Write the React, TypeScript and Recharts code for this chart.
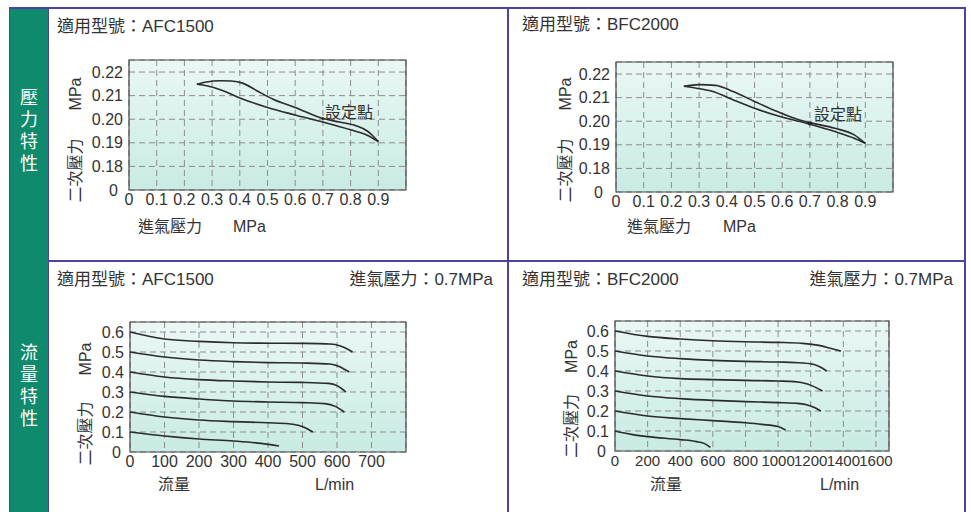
import React from 'react';
import { LineChart, Line, XAxis, YAxis, CartesianGrid, ReferenceArea, ReferenceDot } from 'recharts';

const FONT = '"Liberation Sans", "Noto Sans CJK TC", sans-serif';
const INK = '#333';
const RULE = '#4a44a0';

type Pt = [number, number];

// 壓力特性: x = 進氣壓力 (MPa), y = 二次壓力 (MPa); 0.17 stands for the broken-axis "0"
const inletTicks = [0, 0.1, 0.2, 0.3, 0.4, 0.5, 0.6, 0.7, 0.8, 0.9];
const outletTicks = [0.17, 0.18, 0.19, 0.2, 0.21, 0.22];

const afcUpper: Pt[] = [[0.245, 0.2148], [0.28, 0.2158], [0.33, 0.2163], [0.37, 0.2162], [0.41, 0.2153], [0.46, 0.2122], [0.52, 0.2085], [0.6, 0.205], [0.7, 0.2003], [0.76, 0.1988], [0.82, 0.1972], [0.86, 0.195], [0.88, 0.193], [0.9, 0.1905]];
const afcLower: Pt[] = [[0.245, 0.2148], [0.28, 0.2142], [0.33, 0.2125], [0.4, 0.209], [0.5, 0.205], [0.6, 0.2018], [0.7, 0.1988], [0.8, 0.1955], [0.86, 0.1932], [0.9, 0.1905]];

const bfcUpper: Pt[] = [[0.245, 0.2148], [0.3, 0.2155], [0.36, 0.2152], [0.42, 0.2127], [0.5, 0.2084], [0.58, 0.2042], [0.66, 0.2006], [0.7, 0.1994], [0.79, 0.197], [0.86, 0.1942], [0.9, 0.1906]];
const bfcLower: Pt[] = [[0.245, 0.2148], [0.29, 0.214], [0.35, 0.2126], [0.42, 0.2092], [0.5, 0.2055], [0.58, 0.2024], [0.7, 0.1987], [0.79, 0.1956], [0.86, 0.1928], [0.9, 0.1906]];

// 流量特性: x = 流量 (L/min), y = 二次壓力 (MPa), 進氣壓力 0.7MPa
const flowYTicks = [0, 0.1, 0.2, 0.3, 0.4, 0.5, 0.6];
const afcFlowTicks = [0, 100, 200, 300, 400, 500, 600, 700];
const bfcFlowTicks = [0, 200, 400, 600, 800, 1000, 1200, 1400, 1600];

const afcFlow06: Pt[] = [[0, 0.6], [100, 0.565], [200, 0.553], [300, 0.546], [400, 0.544], [500, 0.543], [580, 0.54], [610, 0.53], [630, 0.515], [645, 0.5]];
const afcFlow05: Pt[] = [[0, 0.5], [100, 0.475], [200, 0.46], [300, 0.452], [400, 0.447], [500, 0.445], [580, 0.44], [610, 0.425], [625, 0.41], [636, 0.4]];
const afcFlow04: Pt[] = [[0, 0.4], [100, 0.375], [200, 0.362], [300, 0.355], [400, 0.35], [500, 0.348], [575, 0.343], [600, 0.332], [615, 0.315], [626, 0.3]];
const afcFlow03: Pt[] = [[0, 0.3], [100, 0.278], [200, 0.265], [300, 0.255], [400, 0.25], [500, 0.247], [565, 0.242], [595, 0.228], [610, 0.213], [621, 0.2]];
const afcFlow02: Pt[] = [[0, 0.2], [100, 0.175], [200, 0.16], [300, 0.152], [400, 0.146], [460, 0.141], [490, 0.132], [515, 0.115], [530, 0.1]];
const afcFlow01: Pt[] = [[0, 0.1], [100, 0.08], [200, 0.065], [300, 0.055], [380, 0.043], [432, 0.03]];

const bfcFlow06: Pt[] = [[0, 0.6], [200, 0.573], [400, 0.56], [600, 0.551], [800, 0.546], [1000, 0.543], [1150, 0.538], [1250, 0.528], [1320, 0.514], [1385, 0.5]];
const bfcFlow05: Pt[] = [[0, 0.5], [200, 0.475], [400, 0.462], [600, 0.453], [800, 0.448], [1000, 0.445], [1150, 0.44], [1230, 0.43], [1270, 0.415], [1298, 0.4]];
const bfcFlow04: Pt[] = [[0, 0.4], [200, 0.375], [400, 0.362], [600, 0.357], [800, 0.353], [1000, 0.35], [1100, 0.347], [1180, 0.335], [1230, 0.318], [1272, 0.3]];
const bfcFlow03: Pt[] = [[0, 0.3], [200, 0.275], [400, 0.262], [600, 0.253], [800, 0.247], [1000, 0.242], [1120, 0.238], [1190, 0.228], [1230, 0.215], [1262, 0.2]];
const bfcFlow02: Pt[] = [[0, 0.2], [200, 0.175], [400, 0.162], [600, 0.152], [800, 0.141], [900, 0.133], [1000, 0.122], [1046, 0.105]];
const bfcFlow01: Pt[] = [[0, 0.1], [100, 0.083], [200, 0.072], [400, 0.057], [500, 0.047], [550, 0.037], [585, 0.018]];

const toRows = (pts: Pt[]) => pts.map(([x, y]) => ({ x, y }));

const fmtOutlet = (v: number) => (v < 0.175 ? '0' : v.toFixed(2));
const fmtInlet = (v: number) => (v === 0 ? '0' : v.toFixed(1));
const fmtFlowY = (v: number) => (v === 0 ? '0' : v.toFixed(1));
const fmtFlowX = (v: number) => String(v);

const setPoint = (dx: number, dy: number, r: number) => (p: any) => (
  <g>
    {r > 0 && <circle cx={p.cx} cy={p.cy} r={r} fill="#222" />}
    <text x={p.cx + dx} y={p.cy + dy} fill={INK} fontSize={16} fontFamily={FONT}>設定點</text>
  </g>
);

// y tick; the broken-axis "0" sits a little further left in the pressure plots
const yTick = (fmt: (v: number) => string, zeroShift: number) => (p: any) => {
  const label = fmt(p.payload.value);
  return (
    <text x={p.x - (label === '0' ? zeroShift : 0)} y={p.y} dy="0.355em" textAnchor="end" fill={INK} fontSize={16} fontFamily={FONT}>
      {label}
    </text>
  );
};

interface PlotProps {
  id: string;
  left: number;
  top: number;
  width: number;
  xDomain: [number, number];
  xTicks: number[];
  xFormat: (v: number) => string;
  yDomain: [number, number];
  yTicks: number[];
  yFormat: (v: number) => string;
  zeroShift?: number;
  series: Pt[][];
  tickFont?: number;
  children?: React.ReactNode;
}

const Plot: React.FC<PlotProps> = ({ id, left, top, width, xDomain, xTicks, xFormat, yDomain, yTicks, yFormat, zeroShift = 0, series, tickFont = 16, children }) => (
  <div style={{ position: 'absolute', left, top }}>
    <LineChart width={width} height={170} margin={{ top: 10, right: 14, left: 0, bottom: 0 }}>
      <defs>
        <linearGradient id={id} x1="0" y1="0" x2="0" y2="1">
          <stop offset="0%" stopColor="#eaf7f5" />
          <stop offset="100%" stopColor="#c8ebe3" />
        </linearGradient>
      </defs>
      <CartesianGrid fill={`url(#${id})`} fillOpacity={1} stroke="#8d8d8d" strokeDasharray="6 4" />
      <XAxis
        type="number"
        dataKey="x"
        domain={xDomain}
        ticks={xTicks}
        interval={0}
        height={30}
        axisLine={false}
        tickLine={false}
        tickSize={0}
        tickMargin={4}
        tickFormatter={xFormat}
        tick={{ fill: INK, fontSize: tickFont, fontFamily: FONT }}
      />
      <YAxis
        type="number"
        dataKey="y"
        domain={yDomain}
        ticks={yTicks}
        interval={0}
        width={49}
        axisLine={false}
        tickLine={false}
        tickSize={0}
        tickMargin={6}
        tick={yTick(yFormat, zeroShift)}
      />
      <ReferenceArea x1={xDomain[0]} x2={xDomain[1]} y1={yDomain[0]} y2={yDomain[1]} fill="none" stroke="#4a4a4a" strokeWidth={1.2} />
      {series.map((pts, i) => (
        <Line key={i} data={toRows(pts)} dataKey="y" type="monotone" stroke="#2b2b2b" strokeWidth={1.6} dot={false} activeDot={false} isAnimationActive={false} />
      ))}
      {children}
    </LineChart>
  </div>
);

const Txt: React.FC<{ left: number; top: number; size?: number; children: React.ReactNode }> = ({ left, top, size = 16, children }) => (
  <div style={{ position: 'absolute', left, top, fontSize: size, lineHeight: '20px', whiteSpace: 'nowrap' }}>{children}</div>
);

const RightTxt: React.FC<{ right: number; top: number; children: React.ReactNode }> = ({ right, top, children }) => (
  <div style={{ position: 'absolute', left: right - 200, width: 200, top, fontSize: 17, lineHeight: '20px', textAlign: 'right', whiteSpace: 'nowrap' }}>{children}</div>
);

const YName: React.FC<{ cx: number; cy: number; span: number }> = ({ cx, cy, span }) => (
  <div
    style={{
      position: 'absolute', left: cx - span / 2, top: cy - 10, width: span, height: 20, lineHeight: '20px', fontSize: 16,
      display: 'flex', justifyContent: 'space-between', transform: 'rotate(-90deg)', whiteSpace: 'nowrap',
    }}
  >
    <span>二次壓力</span>
    <span>MPa</span>
  </div>
);

const SideLabel: React.FC<{ top: number; text: string }> = ({ top, text }) => (
  <div style={{ position: 'absolute', left: 10, top, width: 38, color: '#fff', fontSize: 18, lineHeight: '22px', textAlign: 'center' }}>
    {text.split('').map((c, i) => <div key={i}>{c}</div>)}
  </div>
);

export default function App() {
  return (
    <div style={{ position: 'absolute', left: 0, top: 0, width: 971, height: 512, background: '#fff', fontFamily: FONT, color: INK, overflow: 'hidden' }}>
      {/* green side column and frame rules */}
      <div style={{ position: 'absolute', left: 9, top: 8, width: 38, height: 504, background: '#0f8a6c', borderLeft: `1px solid ${RULE}`, borderRight: `1px solid ${RULE}` }} />
      <div style={{ position: 'absolute', left: 9, top: 7, width: 957, height: 2, background: RULE }} />
      <div style={{ position: 'absolute', left: 48, top: 260, width: 918, height: 2, background: RULE }} />
      <div style={{ position: 'absolute', left: 507, top: 8, width: 2, height: 504, background: RULE }} />
      <div style={{ position: 'absolute', left: 964, top: 8, width: 2, height: 504, background: RULE }} />

      <SideLabel top={87} text="壓力特性" />
      <SideLabel top={342} text="流量特性" />

      {/* 壓力特性 AFC1500 */}
      <Txt left={57} top={17} size={17}>適用型號：AFC1500</Txt>
      <YName cx={75} cy={139.5} span={125} />
      <Plot id="bgA" left={80} top={50} width={340} xDomain={[0, 1]} xTicks={inletTicks} xFormat={fmtInlet} yDomain={[0.17, 0.2251]} yTicks={outletTicks} yFormat={fmtOutlet} zeroShift={5} series={[afcUpper, afcLower]}>
        <ReferenceDot x={0.7} y={0.2003} r={1.5} shape={setPoint(2, -1, 1.2)} />
      </Plot>
      <Txt left={138} top={217}>進氣壓力</Txt>
      <Txt left={233} top={217}>MPa</Txt>

      {/* 壓力特性 BFC2000 */}
      <Txt left={522} top={15} size={17}>適用型號：BFC2000</Txt>
      <YName cx={565} cy={139.5} span={125} />
      <Plot id="bgB" left={566.5} top={52} width={340} xDomain={[0, 1]} xTicks={inletTicks} xFormat={fmtInlet} yDomain={[0.17, 0.2251]} yTicks={outletTicks} yFormat={fmtOutlet} zeroShift={7} series={[bfcUpper, bfcLower]}>
        <ReferenceDot x={0.7} y={0.199} r={2} shape={setPoint(4, -4, 2)} />
      </Plot>
      <Txt left={627} top={217}>進氣壓力</Txt>
      <Txt left={723} top={217}>MPa</Txt>

      {/* 流量特性 AFC1500 */}
      <Txt left={57} top={270} size={17}>適用型號：AFC1500</Txt>
      <RightTxt right={493} top={270}>進氣壓力：0.7MPa</RightTxt>
      <YName cx={85} cy={403.5} span={123} />
      <Plot id="bgC" left={80.5} top={312} width={339} xDomain={[0, 800]} xTicks={afcFlowTicks} xFormat={fmtFlowX} yDomain={[0, 0.65]} yTicks={flowYTicks} yFormat={fmtFlowY} zeroShift={3}
        series={[afcFlow06, afcFlow05, afcFlow04, afcFlow03, afcFlow02, afcFlow01]} />
      <Txt left={158} top={475}>流量</Txt>
      <Txt left={315} top={475}>L/min</Txt>

      {/* 流量特性 BFC2000 */}
      <Txt left={522} top={270} size={17}>適用型號：BFC2000</Txt>
      <RightTxt right={953} top={270}>進氣壓力：0.7MPa</RightTxt>
      <YName cx={571.5} cy={399} span={118} />
      <Plot id="bgD" left={566} top={311} width={337} xDomain={[0, 1680]} xTicks={bfcFlowTicks} xFormat={fmtFlowX} yDomain={[0, 0.65]} yTicks={flowYTicks} yFormat={fmtFlowY} zeroShift={3}
        series={[bfcFlow06, bfcFlow05, bfcFlow04, bfcFlow03, bfcFlow02, bfcFlow01]} tickFont={15} />
      <Txt left={650} top={475}>流量</Txt>
      <Txt left={820} top={475}>L/min</Txt>
    </div>
  );
}
